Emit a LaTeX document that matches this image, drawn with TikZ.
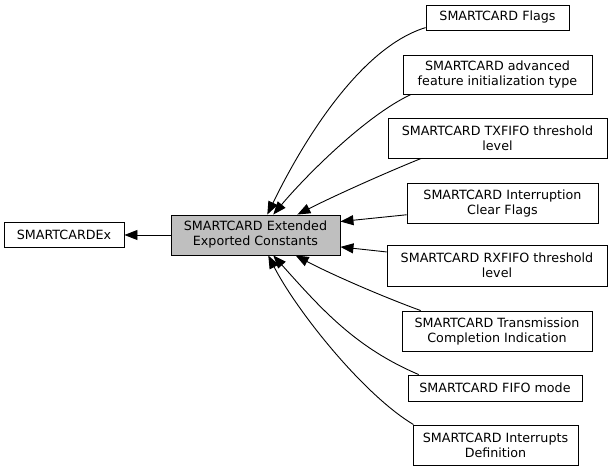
\documentclass[tikz,border=0pt]{standalone}
\usepackage{fontspec}
\setmainfont{DejaVu Sans}
\usetikzlibrary{arrows.meta}
\definecolor{curgray}{HTML}{BFBFBF}
\tikzset{
  grp/.style={rectangle, draw=black, line width=0.9pt, inner sep=0pt, align=center, font=\fontsize{12.7}{15}\selectfont, fill=white},
  cur/.style={grp, fill=curgray},
  arr/.style={-{Triangle[length=13pt,width=10pt]}, line width=0.9pt}
}

\begin{document}
\begin{tikzpicture}[x=1pt, y=1pt]
\useasboundingbox (0,0) rectangle (613,471);
\node[grp, minimum width=120, minimum height=25] (ex) at (64,236) {SMARTCARDEx};
\node[cur, minimum width=169, minimum height=40] (main) at (255.5,236) {SMARTCARD Extended\\Exported Constants};
\node[grp, minimum width=143, minimum height=25] (flags) at (497.5,453.5) {SMARTCARD Flags};
\node[grp, minimum width=189, minimum height=39] (adv) at (497.5,396.5) {SMARTCARD advanced\\feature initialization type};
\node[grp, minimum width=219, minimum height=40] (tx) at (497.5,333) {SMARTCARD TXFIFO threshold\\level};
\node[grp, minimum width=191, minimum height=40] (intr) at (502.5,268) {SMARTCARD Interruption\\Clear Flags};
\node[grp, minimum width=220, minimum height=41] (rx) at (497,205.5) {SMARTCARD RXFIFO threshold\\level};
\node[grp, minimum width=190, minimum height=40] (trans) at (497,140) {SMARTCARD Transmission\\Completion Indication};
\node[grp, minimum width=174, minimum height=26] (fifo) at (495,83) {SMARTCARD FIFO mode};
\node[grp, minimum width=165, minimum height=40] (ints) at (495.5,26) {SMARTCARD Interrupts\\Definition};

\draw[arr] (main.west) -- (ex.east);
\draw[arr] (flags.188) .. controls +(197:80) and +(64:45) .. (main.60);
\draw[arr] (adv.193) .. controls +(205:50) and +(50:50) .. (main.49);
\draw[arr] (tx.195) .. controls +(202:40) and +(27:40) .. (main.26);
\draw[arr] (intr.187) -- (main.9);
\draw[arr] (rx.173) -- (main.352);
\draw[arr] (trans.165) .. controls +(160:40) and +(332:40) .. (main.333);
\draw[arr] (fifo.170) .. controls +(157:70) and +(312:70) .. (main.311);
\draw[arr] (ints.166) .. controls +(149:60) and +(297:60) .. (main.302);
\end{tikzpicture}
\end{document}
